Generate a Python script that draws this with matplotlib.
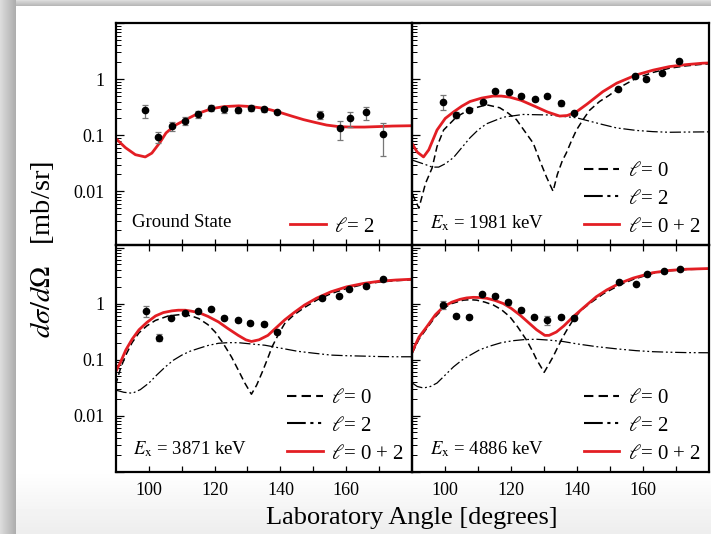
import numpy as np
import matplotlib
matplotlib.use("Agg")
import matplotlib.pyplot as plt
from matplotlib.ticker import LogLocator, NullFormatter, FixedLocator, FixedFormatter

plt.rcParams["font.family"] = ["Liberation Serif", "DejaVu Serif"]
plt.rcParams["mathtext.fontset"] = "stix"

RED = "#e31e24"

# ---------------- data: ground state ----------------
gs_x = [99, 103, 107, 111, 115, 119, 123, 127, 131, 135, 139, 152, 158, 161, 166, 171]
gs_y = [0.28, 0.094, 0.148, 0.182, 0.24, 0.31, 0.29, 0.283, 0.31, 0.295, 0.264,
        0.23, 0.133, 0.206, 0.264, 0.105]
gs_lo = [0.20, 0.073, 0.12, 0.153, 0.20, 0.275, 0.25, 0.245, 0.275, 0.265, 0.255,
         0.195, 0.083, 0.143, 0.19, 0.042]
gs_hi = [0.34, 0.115, 0.17, 0.21, 0.275, 0.347, 0.32, 0.31, 0.345, 0.325, 0.274,
         0.275, 0.176, 0.26, 0.32, 0.165]
gs_cx = [90, 93, 96, 99, 101, 103.5, 105.3, 108, 111.3, 115, 119.3, 123, 127.4, 131,
         135.4, 139, 143.4, 147, 150.4, 154, 157.5, 161, 165.5, 170, 174, 180]
gs_l2 = [0.088, 0.06, 0.045, 0.041, 0.048, 0.075, 0.11, 0.15, 0.19, 0.245, 0.30, 0.325,
         0.335, 0.325, 0.30, 0.265, 0.22, 0.19, 0.17, 0.152, 0.143, 0.14, 0.14, 0.143,
         0.146, 0.148]

# ---------------- data: Ex = 1981 keV ----------------
e1_x = [99.3, 103.2, 107.3, 111.3, 115.1, 119.2, 123.1, 127.1, 131, 135, 139,
        152.3, 157.7, 161, 165.7, 171]
e1_y = [0.40, 0.23, 0.28, 0.40, 0.61, 0.59, 0.51, 0.44, 0.50, 0.37, 0.25,
        0.67, 1.13, 1.0, 1.30, 2.1]
e1_lo = [0.28, 0.20, 0.26, 0.37, 0.57, 0.55, 0.48, 0.41, 0.47, 0.33, 0.235,
         0.63, 1.06, 0.94, 1.22, 1.97]
e1_hi = [0.52, 0.265, 0.30, 0.43, 0.65, 0.63, 0.55, 0.47, 0.53, 0.41, 0.265,
         0.71, 1.2, 1.06, 1.38, 2.23]
e1_cx = [90, 91.5, 93.4, 95, 97.5, 100, 102.5, 105, 107.5, 111, 114.5, 117, 119.5, 123,
         127.6, 131, 134.7, 137, 139.7, 143, 147.8, 152, 157.9, 163, 168, 173, 178, 180]
e1_sum = [0.07, 0.05, 0.041, 0.055, 0.124, 0.2, 0.26, 0.33, 0.40, 0.46, 0.50, 0.50, 0.48,
          0.42, 0.32, 0.26, 0.22, 0.225, 0.26, 0.36, 0.60, 0.85, 1.19, 1.45, 1.68, 1.82,
          1.93, 1.95]
e1_l0x = [90, 92, 94, 96, 97.5, 99.5, 103.5, 107.5, 112.5, 116.5, 119, 121.6, 124, 126.7,
          128.7, 130.7, 132.7, 134, 135.5, 136.7, 138.3, 139.8, 141.8, 143.8, 146.8, 149.8,
          153, 157.9, 163, 168, 173, 178, 180]
e1_l0 = [0.009, 0.005, 0.0138, 0.026, 0.063, 0.124, 0.215, 0.29, 0.35, 0.31, 0.25, 0.19,
         0.12, 0.072, 0.035, 0.018, 0.01, 0.02, 0.035, 0.048, 0.08, 0.124, 0.19, 0.28, 0.40,
         0.52, 0.72, 1.04, 1.32, 1.57, 1.73, 1.85, 1.88]
e1_l2x = [90, 94, 96, 98, 100, 102.5, 105, 107.5, 110, 112.5, 117.6, 123.6, 131.7, 139.8,
          147.8, 152, 157.9, 163, 168, 173, 180]
e1_l2 = [0.036, 0.03, 0.027, 0.027, 0.031, 0.04, 0.06, 0.09, 0.125, 0.16, 0.21, 0.235,
         0.23, 0.205, 0.155, 0.135, 0.122, 0.116, 0.113, 0.114, 0.115]

# ---------------- data: Ex = 3871 keV ----------------
e2_x = [99.1, 103.1, 106.9, 110.9, 114.9, 119, 123, 127, 130.9, 134.9, 138.9,
        152.5, 157.8, 160.8, 166, 171]
e2_y = [0.73, 0.245, 0.56, 0.69, 0.73, 0.79, 0.56, 0.50, 0.45, 0.43, 0.31,
        1.24, 1.38, 1.81, 2.03, 2.7]
e2_lo = [0.58, 0.21, 0.52, 0.65, 0.69, 0.75, 0.53, 0.47, 0.42, 0.40, 0.29,
         1.17, 1.3, 1.72, 1.93, 2.57]
e2_hi = [0.90, 0.285, 0.60, 0.73, 0.77, 0.83, 0.59, 0.53, 0.48, 0.46, 0.33,
         1.31, 1.46, 1.9, 2.13, 2.83]
e2_cx = [90, 91.5, 93.1, 95, 97.1, 99.5, 102.1, 104.5, 107.1, 109, 111.1, 113, 115.2,
         118, 121.2, 124, 127.2, 129.5, 131.2, 133.5, 136.2, 138.5, 141.3, 144, 147.3, 151,
         155.3, 160, 165.3, 170, 175, 180]
e2_sum = [0.06, 0.09, 0.148, 0.23, 0.34, 0.46, 0.60, 0.69, 0.74, 0.76, 0.76, 0.73, 0.69,
          0.59, 0.47, 0.36, 0.27, 0.225, 0.21, 0.225, 0.27, 0.36, 0.51, 0.68, 0.94, 1.25,
          1.62, 1.98, 2.29, 2.5, 2.63, 2.72]
e2_l0x = [90, 91.5, 93.1, 95, 97.1, 99.5, 102.1, 106, 110.1, 113, 115.2, 118, 120.2, 122.5,
          125.2, 127.2, 129.2, 131.2, 132.8, 134.5, 136, 137.5, 139.5, 141.3, 144, 147.3,
          151, 155.3, 160, 165.3, 170, 175, 180]
e2_l0 = [0.035, 0.07, 0.12, 0.2, 0.30, 0.40, 0.50, 0.60, 0.64, 0.60, 0.54, 0.42, 0.31,
         0.2, 0.11, 0.065, 0.038, 0.024, 0.035, 0.06, 0.1, 0.17, 0.29, 0.44, 0.62, 0.85,
         1.15, 1.5, 1.85, 2.2, 2.42, 2.56, 2.66]
e2_l2x = [90, 92.5, 95.1, 97.5, 100.1, 102.5, 105.1, 107.5, 110.1, 112.5, 115.2, 118,
          121.2, 124, 127.2, 131, 135.3, 140, 145.3, 150, 155.3, 160, 165.3, 170, 175, 180]
e2_l2 = [0.0285, 0.026, 0.025, 0.029, 0.038, 0.053, 0.074, 0.097, 0.12, 0.14, 0.158,
         0.178, 0.195, 0.2, 0.2, 0.19, 0.18, 0.16, 0.14, 0.13, 0.12, 0.117, 0.115, 0.113,
         0.112, 0.112]

# ---------------- data: Ex = 4886 keV ----------------
e3_x = [99.2, 103.2, 107.2, 111.1, 115.1, 119.1, 123, 127, 131, 135, 139,
        152.7, 157.9, 161.1, 166.3, 171.2]
e3_y = [0.94, 0.61, 0.58, 1.48, 1.38, 1.06, 0.77, 0.57, 0.51, 0.58, 0.56,
        2.42, 2.23, 3.36, 3.8, 4.13]
e3_lo = [0.79, 0.57, 0.54, 1.39, 1.3, 0.96, 0.71, 0.53, 0.41, 0.54, 0.52,
         2.28, 2.1, 3.16, 3.57, 3.88]
e3_hi = [1.11, 0.65, 0.62, 1.57, 1.46, 1.16, 0.83, 0.61, 0.60, 0.62, 0.60,
         2.56, 2.36, 3.56, 4.03, 4.38]
e3_cx = [90, 92, 94.4, 97, 99.5, 102, 104.5, 106.5, 108.5, 110.5, 112.6, 115, 117.6, 120,
         122.7, 125, 127.7, 130.2, 131.5, 133.7, 136, 138.8, 142, 145.8, 149, 152.9, 157,
         162.9, 168, 173, 180]
e3_sum = [0.14, 0.25, 0.385, 0.63, 0.88, 1.06, 1.19, 1.26, 1.29, 1.28, 1.24, 1.14, 1.0,
          0.82, 0.62, 0.47, 0.34, 0.27, 0.27, 0.31, 0.40, 0.58, 0.85, 1.32, 1.75, 2.3, 2.85,
          3.55, 3.9, 4.1, 4.22]
e3_l0x = [90, 92, 94.4, 97, 99.5, 102, 105.5, 107.5, 109.5, 112, 114.6, 117, 119.6, 122,
          124.7, 126.5, 127.7, 130, 131.3, 132.7, 134.2, 135.7, 137.3, 138.8, 141, 143.8,
          148, 152.9, 157, 162.9, 168, 173, 180]
e3_l0 = [0.13, 0.23, 0.36, 0.58, 0.83, 1.0, 1.15, 1.17, 1.15, 1.06, 0.94, 0.78, 0.58,
         0.38, 0.22, 0.14, 0.10, 0.059, 0.08, 0.112, 0.17, 0.255, 0.37, 0.51, 0.74, 1.0,
         1.5, 2.14, 2.7, 3.45, 3.85, 4.05, 4.15]
e3_l2x = [90, 91.5, 93.4, 95.5, 97.5, 100, 102.5, 105, 107.6, 110.5, 113.6, 117, 120.6,
          124, 127.7, 131.5, 135.7, 140, 145.8, 152, 157.9, 163, 168, 173, 180]
e3_l2 = [0.038, 0.033, 0.031, 0.033, 0.038, 0.053, 0.074, 0.097, 0.12, 0.15, 0.174, 0.2,
         0.217, 0.227, 0.23, 0.222, 0.21, 0.19, 0.17, 0.155, 0.144, 0.138, 0.135, 0.133,
         0.132]

labels = ["Ground State", "1981 keV", "3871 keV", "4886 keV"]

# ---------------- figure ----------------
W, H = 711, 534
fig = plt.figure(figsize=(W / 100, H / 100), dpi=100)

# screenshot-like backdrop: grey frame on left/top, soft fade at the bottom
bg = np.ones((H, W))
bg[:, :16] = np.linspace(0.86, 0.68, 16)[None, :]
bg[:6, 16:] = np.linspace(0.86, 0.72, 6)[:, None]
bg[470:, 16:] = np.linspace(1.0, 0.93, H - 470)[:, None]
bax = fig.add_axes([0, 0, 1, 1], zorder=-10)
bax.imshow(bg, cmap="gray", vmin=0, vmax=1, aspect="auto")
bax.axis("off")

L = 115.6 / W
AW = 296.7 / W
pos = {
    (0, 0): [L, 1 - 245 / H, AW, 222.3 / H],
    (0, 1): [L + AW, 1 - 245 / H, AW, 222.3 / H],
    (1, 0): [L, 1 - 472 / H, AW, 227 / H],
    (1, 1): [L + AW, 1 - 472 / H, AW, 227 / H],
}

DASH = (0, (4.5, 2.5))
DDOT = (0, (9, 2.2, 1.5, 2.2, 1.5, 2.2))
data_sets = [
    (gs_x, gs_y, gs_lo, gs_hi),
    (e1_x, e1_y, e1_lo, e1_hi),
    (e2_x, e2_y, e2_lo, e2_hi),
    (e3_x, e3_y, e3_lo, e3_hi),
]
curve_sets = [
    None,
    (e1_cx, e1_sum, e1_l0x, e1_l0, e1_l2x, e1_l2),
    (e2_cx, e2_sum, e2_l0x, e2_l0, e2_l2x, e2_l2),
    (e3_cx, e3_sum, e3_l0x, e3_l0, e3_l2x, e3_l2),
]

for i, key in enumerate([(0, 0), (0, 1), (1, 0), (1, 1)]):
    r, c = key
    ax = fig.add_axes(pos[key])
    ax.set_facecolor("none")
    ax.set_yscale("log")
    ax.set_xlim(90, 180)
    if r == 0:
        ax.set_ylim(1.1e-3, 10.2)
    else:
        ax.set_ylim(9.8e-4, 11.1)

    x, y, lo, hi = [np.asarray(v) for v in data_sets[i]]
    ax.errorbar(x, y, yerr=[y - lo, hi - y], fmt="o", color="black", ms=4.5,
                ecolor="#777777", elinewidth=0.9, capsize=2.2, capthick=0.9, zorder=5)

    if i == 0:
        ax.plot(gs_cx, gs_l2, color=RED, lw=2.0, label=r"$\ell$= 2")
        ax.text(0.055, 0.10, "Ground State", transform=ax.transAxes, fontsize=13.5,
                va="center", ha="left")
        leg = ax.legend(loc="lower right", bbox_to_anchor=(0.90, 0.0), frameon=False,
                        fontsize=15, handlelength=1.7, handletextpad=0.4,
                        borderaxespad=0.0)
    else:
        cx, s, l0x, l0, l2x, l2 = curve_sets[i]
        ax.plot(l0x, l0, color="black", lw=1.1, ls=DASH, label=r"$\ell$= 0")
        ax.plot(l2x, l2, color="black", lw=0.9, ls=DDOT, label=r"$\ell$= 2")
        ax.plot(cx, s, color=RED, lw=2.0, label=r"$\ell$= 0 + 2")
        ax.text(0.06, 0.10, r"$E_{\mathrm{x}}$ = " + labels[i], transform=ax.transAxes,
                fontsize=13.5, va="center", ha="left")
        leg = ax.legend(loc="lower right", bbox_to_anchor=(1.0, 0.0), frameon=False,
                        fontsize=15, handlelength=1.7, handletextpad=0.4,
                        labelspacing=0.4, borderaxespad=0.0)
        # thicker strokes in the legend keys, as in the original
        for h in leg.legend_handles[:2]:
            h.set_linewidth(1.5)

    for sp in ax.spines.values():
        sp.set_linewidth(1.6)
    ax.xaxis.set_major_locator(FixedLocator([100, 120, 140, 160]))
    ax.xaxis.set_minor_locator(FixedLocator([110, 130, 150, 170]))
    ax.tick_params(axis="x", which="both", direction="in", length=4.5, width=0.9,
                   top=(r == 1), labelbottom=(r == 1), labelsize=13, pad=7)
    ax.yaxis.set_major_locator(FixedLocator([0.001, 0.01, 0.1, 1, 10]))
    ax.yaxis.set_major_formatter(FixedFormatter(["", "0.01", "0.1", "1", ""]))
    ax.yaxis.set_minor_locator(LogLocator(base=10, subs=np.arange(2, 10), numticks=20))
    ax.yaxis.set_minor_formatter(NullFormatter())
    ax.tick_params(axis="y", which="major", direction="in", length=6, width=0.9,
                   labelsize=13, labelleft=(c == 0), pad=8)
    ax.tick_params(axis="y", which="minor", direction="in", length=3.5, width=0.7)

fig.text(42 / W, 1 - 250 / H, r"$d\sigma/d\mathit{\Omega}$   [mb/sr]", rotation=90,
         fontsize=20.5, ha="center", va="center")
fig.text((115.6 + 296.7) / W, 1 - 518 / H, "Laboratory Angle [degrees]", fontsize=19,
         ha="center", va="center")

fig.savefig("out.png", dpi=100)
